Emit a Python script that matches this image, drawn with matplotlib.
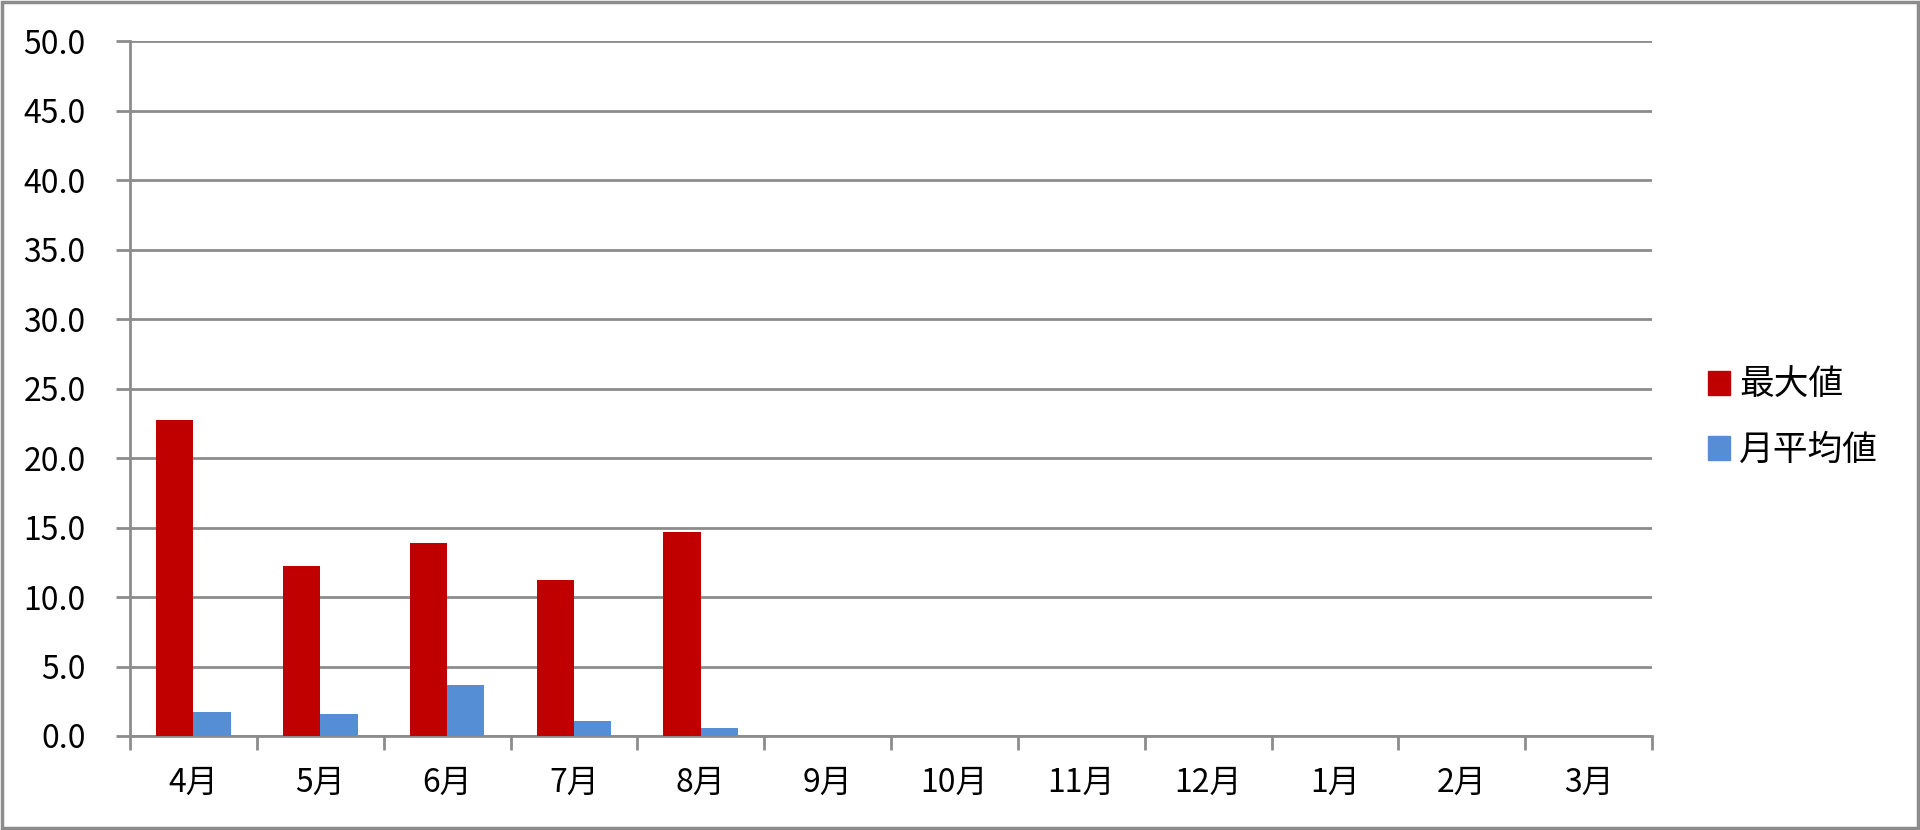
import numpy as np
import matplotlib
matplotlib.use("Agg")
import matplotlib.pyplot as plt
from matplotlib.patches import Patch, Rectangle

plt.rcParams['font.family'] = ['Noto Sans CJK JP', 'DejaVu Sans']

months = ["4月", "5月", "6月", "7月", "8月", "9月", "10月", "11月", "12月", "1月", "2月", "3月"]
max_vals = [22.7, 12.2, 13.9, 11.2, 14.7, np.nan, np.nan, np.nan, np.nan, np.nan, np.nan, np.nan]
avg_vals = [1.7, 1.6, 3.7, 1.1, 0.55, np.nan, np.nan, np.nan, np.nan, np.nan, np.nan, np.nan]
series_names = ["最大値", "月平均値"]
yticks = [0, 5, 10, 15, 20, 25, 30, 35, 40, 45, 50]

W, H = 1920, 830
fig = plt.figure(figsize=(W / 100, H / 100), dpi=100)
ax = fig.add_axes([130 / W, 1 - 736 / H, (1652 - 130) / W, (736 - 41) / H])

red = "#C00000"
blue = "#558ED5"
grid_c = "#8C8C8C"

x = np.arange(len(months))
bw = 0.295
ax.bar(x - bw / 2, max_vals, width=bw, color=red, zorder=3)
ax.bar(x + bw / 2, avg_vals, width=bw, color=blue, zorder=3)

ax.set_xlim(-0.5, len(months) - 0.5)
ax.set_ylim(0, 50)
ax.set_yticks(yticks)
ax.set_yticklabels([f"{v:.1f}" for v in yticks])
ax.yaxis.grid(True, color=grid_c, linewidth=2, zorder=0)
ax.set_axisbelow(True)

# category boundary ticks + centered labels
ax.set_xticks(np.arange(-0.5, len(months), 1.0))
ax.set_xticklabels([])
ax.set_xticks(x, minor=True)
ax.set_xticklabels(months, minor=True)
ax.tick_params(axis='x', which='major', length=10, width=2, color=grid_c, direction='out')
ax.tick_params(axis='x', which='minor', length=0, pad=22, labelsize=23, labelcolor='black')
ax.tick_params(axis='y', length=10, width=2, color=grid_c, direction='out', pad=22,
               labelsize=23, labelcolor='black')

for s in ['top', 'right']:
    ax.spines[s].set_visible(False)
for s in ['left', 'bottom']:
    ax.spines[s].set_color(grid_c)
    ax.spines[s].set_linewidth(2)

handles = [Patch(facecolor=red, edgecolor=red), Patch(facecolor=blue, edgecolor=blue)]
fig.legend(handles, series_names, loc='center left',
           bbox_to_anchor=(1708 / W, 1 - 418 / H), frameon=False,
           fontsize=25, handlelength=0.63, handleheight=0.68,
           handletextpad=0.26, labelspacing=0.87, borderpad=0, borderaxespad=0)

fig.patches.append(Rectangle((0.001, 0.002), 0.998, 0.996, transform=fig.transFigure,
                             fill=False, edgecolor="#8C8C8C", linewidth=2.5))

fig.savefig("out.png", dpi=100)
